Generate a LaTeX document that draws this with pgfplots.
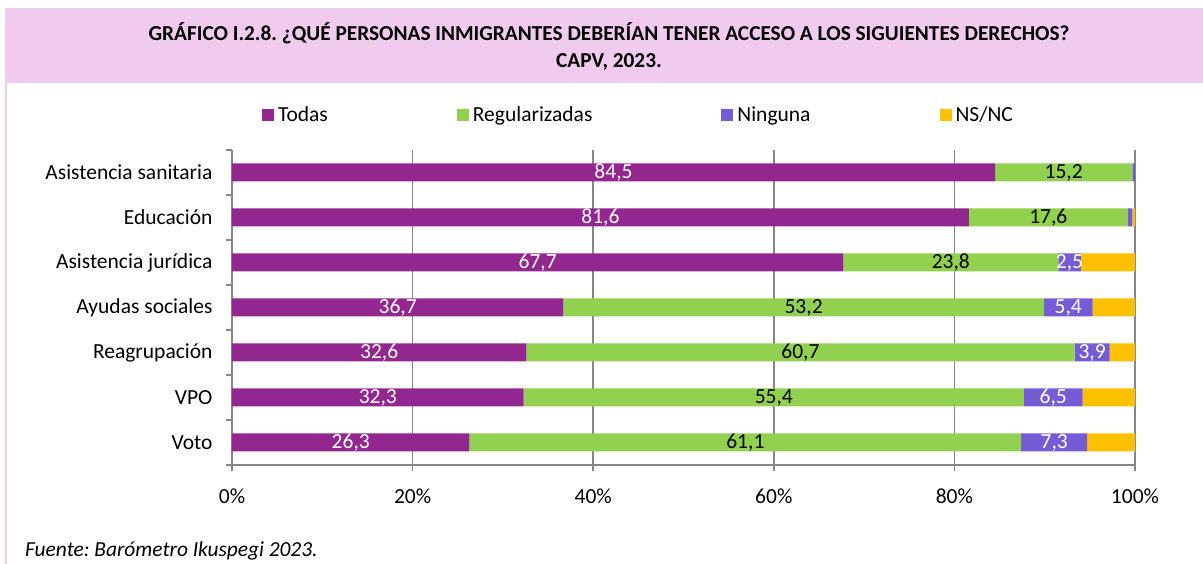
\documentclass[border=0pt]{standalone}
\usepackage{fontspec}
\setmainfont{Carlito}
\usepackage{pgfplots}
\pgfplotsset{compat=1.18}
\definecolor{cTodas}{RGB}{146,39,143}
\definecolor{cReg}{RGB}{146,208,80}
\definecolor{cNin}{RGB}{117,92,214}
\definecolor{cNS}{RGB}{255,192,0}
\definecolor{band}{RGB}{240,203,238}
\definecolor{gridc}{RGB}{134,134,134}
\frenchspacing
\begin{document}
\begin{tikzpicture}
\useasboundingbox (0,0) rectangle (1203pt,564pt);
\fill[white] (0,0) rectangle (1203pt,564pt);
\fill[band] (5pt,481pt) rectangle (1203pt,556pt);
\draw[band, line width=1.5pt] (5.75pt,0) -- (5.75pt,481pt);
\node[font=\fontsize{21.3}{27}\selectfont\bfseries, align=center] at (609pt,517.5pt)
  {GRÁFICO I.2.8. ¿QUÉ PERSONAS INMIGRANTES DEBERÍAN TENER ACCESO A LOS SIGUIENTES DERECHOS?\\CAPV, 2023.};
\node[anchor=base west, font=\fontsize{21.4}{24}\selectfont\itshape, inner sep=0pt] at (25pt,7pt)
  {Fuente: Barómetro Ikuspegi 2023.};
\begin{axis}[
  at={(232pt,99pt)}, anchor=south west,
  scale only axis, width=903pt, height=315pt,
  xbar stacked, bar width=18pt,
  xmin=0, xmax=100, ymin=-0.5, ymax=6.5,
  axis x line*=bottom, axis y line*=left,
  axis line style={gridc, line width=1.5pt},
  xtick={0,20,...,100},
  xticklabels={0\%,20\%,40\%,60\%,80\%,100\%},
  xmajorgrids, grid style={gridc, line width=1.5pt},
  ytick={0,...,6},
  yticklabels={Voto,VPO,Reagrupación,Ayudas sociales,Asistencia jurídica,Educación,Asistencia sanitaria},
  minor ytick={-0.5,0.5,...,6.5},
  major y tick style={draw=none},
  minor y tick style={gridc, line width=1.5pt},
  major x tick style={gridc, line width=1.5pt},
  tick align=outside, major tick length=6pt, minor tick length=6pt,
  ticklabel style={font=\fontsize{21.5}{24}\selectfont},
  xticklabel style={yshift=-14pt},
  yticklabel style={xshift=-10pt},
  point meta=explicit symbolic,
  every node near coord/.append style={anchor=center, font=\fontsize{21.5}{24}\selectfont},
  legend columns=4,
  legend image code/.code={\path[#1] (0pt,-6pt) rectangle (12pt,6pt); \path (14pt,0pt);},
  legend style={at={(0.033,1.111)}, anchor=west, draw=none, fill=none,
     font=\fontsize{21.5}{24}\selectfont, inner sep=0pt,
     /tikz/every even column/.append style={column sep=127pt}},
]
\addplot[fill=cTodas, draw=none, nodes near coords, every node near coord/.append style={text=white}] coordinates {
 (26.3,0) [26,3] (32.3,1) [32,3] (32.6,2) [32,6] (36.7,3) [36,7] (67.7,4) [67,7] (81.6,5) [81,6] (84.5,6) [84,5]};
\addlegendentry{Todas}
\addplot[fill=cReg, draw=none, nodes near coords, every node near coord/.append style={text=black}] coordinates {
 (61.1,0) [61,1] (55.4,1) [55,4] (60.7,2) [60,7] (53.2,3) [53,2] (23.8,4) [23,8] (17.6,5) [17,6] (15.2,6) [15,2]};
\addlegendentry{Regularizadas}
\addplot[fill=cNin, draw=none, nodes near coords, every node near coord/.append style={text=white}] coordinates {
 (7.3,0) [7,3] (6.5,1) [6,5] (3.9,2) [3,9] (5.4,3) [5,4] (2.5,4) [2,5] (0.5,5) [] (0.3,6) []};
\addlegendentry{Ninguna}
\addplot[fill=cNS, draw=none] coordinates {
 (5.3,0) [] (5.8,1) [] (2.8,2) [] (4.7,3) [] (6.0,4) [] (0.3,5) [] (0,6) []};
\addlegendentry{NS/NC}
\end{axis}
\end{tikzpicture}
\end{document}
